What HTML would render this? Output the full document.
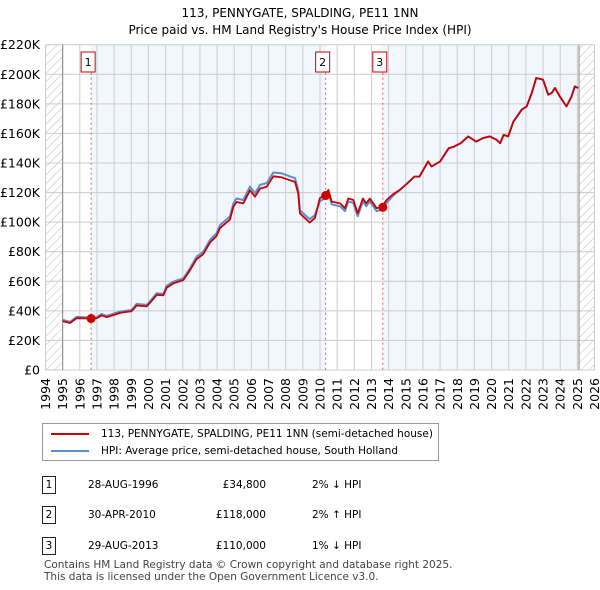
<!DOCTYPE html>
<html><head><meta charset="utf-8"><style>
body{margin:0;background:#fff;font-family:"DejaVu Sans","Liberation Sans",sans-serif;}
#wrap{position:relative;width:600px;height:590px;}
.t{position:absolute;font-size:11px;color:#000;}
svg text{font-family:"DejaVu Sans","Liberation Sans",sans-serif;}
</style></head><body><div id="wrap">
<svg id="chart" width="600" height="420" style="position:absolute;left:0;top:0"></svg>
<div style="position:absolute;left:42px;top:423px;width:397px;height:38px;border:1px solid #999;box-sizing:border-box;">
 <div style="position:absolute;left:8px;top:4px;font-size:10.5px;white-space:nowrap"><span style="display:inline-block;width:38px;height:2px;background:#cc0000;vertical-align:middle;margin-right:12px"></span>113, PENNYGATE, SPALDING, PE11 1NN (semi-detached house)</div>
 <div style="position:absolute;left:8px;top:21px;font-size:10.5px;white-space:nowrap"><span style="display:inline-block;width:38px;height:2px;background:#5b8fd4;vertical-align:middle;margin-right:12px"></span>HPI: Average price, semi-detached house, South Holland</div>
</div>
<div id="rows"></div>
<div class="t" style="left:44px;top:559px;font-size:10.5px;color:#444">Contains HM Land Registry data © Crown copyright and database right 2025.</div>
<div class="t" style="left:44px;top:571px;font-size:10.5px;color:#444">This data is licensed under the Open Government Licence v3.0.</div>
</div>
<script>
const hpiYears=[1995,1995.43,1995.82,1996.55,1996.98,1997.27,1997.56,1998.05,1998.34,1999.02,1999.31,1999.9,2000.19,2000.48,2000.87,2001.06,2001.45,2002.03,2002.42,2002.81,2003.2,2003.59,2003.97,2004.17,2004.75,2004.95,2005.14,2005.53,2005.92,2006.21,2006.5,2006.89,2007.28,2007.76,2008.25,2008.54,2008.73,2008.83,2009.4,2009.7,2009.99,2010.29,2010.49,2010.68,2011.17,2011.46,2011.65,2011.94,2012.2,2012.5,2012.7,2012.9,2013.3,2013.6,2013.88,2014.27,2014.66,2015.05,2015.5,2015.8,2016.3,2016.5,2017,2017.5,2017.8,2018.2,2018.64,2019.1,2019.5,2019.9,2020.3,2020.5,2020.7,2020.97,2021.27,2021.75,2022.05,2022.34,2022.6,2023,2023.3,2023.5,2023.7,2023.98,2024.37,2024.66,2024.85,2025.05];
const hpiValues=[33.9,32.5,36,35.5,35.7,37.9,36.6,38.4,39.5,40.6,44.7,44,47.8,51.9,51.5,56.9,59.8,62,68.8,76.7,80,88,92.5,98,103.8,112.8,116,115,124,119.6,125.2,126.4,133.6,133,130.9,129.8,121.9,108,102,104.7,114,116.4,119.8,112,110.7,107.4,114,113,104,114,110.7,114,107.4,108.5,113,118,121.8,125.8,130.8,130.8,141,137.6,141,150,151,153.4,158,154.5,156.8,158,155.6,153.4,159,158,168,176,178.3,187.3,197.5,196.4,186.2,187.3,190.7,185,178.3,185,191.8,190.7];
const paidValues=[33,31.8,35,34.8,34.9,37,35.8,37.5,38.6,39.8,43.6,43,46.8,50.8,50.5,55.6,58.6,60.8,67.5,75,78.4,86.2,90.6,96,101.7,110.5,113.6,112.7,121.5,117.2,122.7,123.9,131,130.3,128.3,127.2,119.5,106,99.7,102.7,116.1,118.4,121.8,113.9,112.7,109.4,116,115,106,116,112.7,116,109.4,110.5,115,119,121.8,125.8,130.8,130.8,141,137.6,141,150,151,153.4,158,154.5,156.8,158,155.6,153.4,159,158,168,176,178.3,187.3,197.5,196.4,186.2,187.3,190.7,185,178.3,185,191.8,190.7];
const saleYears=[1996.66,2010.33,2013.66];
const salePrices=[34.8,118,110];
const saleLabels=["1","2","3"];
const saleDates=["28-AUG-1996","30-APR-2010","29-AUG-2013"];
const salePriceText=["£34,800","£118,000","£110,000"];
const saleHpiText=["2% ↓ HPI","2% ↑ HPI","1% ↓ HPI"];
const yTicks=[0,20,40,60,80,100,120,140,160,180,200,220];
const yTickLabels=["£0","£20K","£40K","£60K","£80K","£100K","£120K","£140K","£160K","£180K","£200K","£220K"];
const xTicks=[1994,1995,1996,1997,1998,1999,2000,2001,2002,2003,2004,2005,2006,2007,2008,2009,2010,2011,2012,2013,2014,2015,2016,2017,2018,2019,2020,2021,2022,2023,2024,2025,2026];

const NS="http://www.w3.org/2000/svg";
const svg=document.getElementById('chart');
const X0=45.5,X1=594.5,Y0=370,Y1=44.7,xmin=1994,xmax=2026,ymax=220;
const xs=v=>X0+(v-xmin)/(xmax-xmin)*(X1-X0);
const ys=v=>Y0-v/ymax*(Y0-Y1);
function mk(tag,attrs,parent){const e=document.createElementNS(NS,tag);for(const k in attrs)e.setAttribute(k,attrs[k]);(parent||svg).appendChild(e);return e;}
const defs=mk('defs',{});
const pat=mk('pattern',{id:'hatch',width:6,height:6,patternUnits:'userSpaceOnUse',patternTransform:'rotate(45)'},defs);
mk('line',{x1:0,y1:0,x2:0,y2:6,stroke:'#bbb','stroke-width':1},pat);

let t=mk('text',{x:300,y:17,'text-anchor':'middle','font-size':12});t.textContent="113, PENNYGATE, SPALDING, PE11 1NN";


t=mk('text',{x:300,y:34,'text-anchor':'middle','font-size':12});t.textContent="Price paid vs. HM Land Registry's House Price Index (HPI)";



let r=mk('rect',{x:xs(saleYears[0]),y:Y1,width:xs(saleYears[1])-xs(saleYears[0]),height:Y0-Y1,fill:'#eef3fc',opacity:0.75});


r=mk('rect',{x:xs(saleYears[2]),y:Y1,width:xs(2025.1)-xs(saleYears[2]),height:Y0-Y1,fill:'#eef3fc',opacity:0.75});


r=mk('rect',{x:X0,y:Y1,width:xs(1995)-X0,height:Y0-Y1,fill:'url(#hatch)'});


r=mk('rect',{x:xs(2025.1),y:Y1,width:X1-xs(2025.1),height:Y0-Y1,fill:'url(#hatch)'});



yTicks.forEach((v,i)=>{
 const l=mk('line',{x1:X0,x2:X1,y1:ys(v),y2:ys(v),stroke:'#ccc','stroke-width':1});
 
 
 const tx=mk('text',{x:40,y:ys(v)+4.5,'text-anchor':'end','font-size':12.5});tx.textContent=yTickLabels[i];
 
 
});
xTicks.forEach(v=>{
 const l=mk('line',{x1:xs(v),x2:xs(v),y1:Y1,y2:Y0,stroke:'#ccc','stroke-width':1});
 
 
 const x=xs(v)+4.5,y=378;
 const tx=mk('text',{x:x,y:y,'text-anchor':'end','font-size':12.5,transform:'rotate(-90 '+x+' '+y+')'});tx.textContent=v;
 
 
});
let b=mk('line',{x1:xs(1995),x2:xs(1995),y1:Y1,y2:Y0,stroke:'#888'});


b=mk('line',{x1:xs(2025.1),x2:xs(2025.1),y1:Y1,y2:Y0,stroke:'#888'});



saleYears.forEach((s,i)=>{
 const l=mk('line',{x1:xs(s),x2:xs(s),y1:Y1+28,y2:Y0,stroke:'#e06060','stroke-dasharray':'2,3','stroke-width':1});
 
 
 const bx=mk('rect',{x:xs(s)-10,y:52,width:14,height:20,fill:'#fff',stroke:'#cc0000'});
 
 
 const tx=mk('text',{x:xs(s)-3,y:66,'text-anchor':'middle','font-size':11});tx.textContent=saleLabels[i];
 
 
});

function path(vals,color,w,name){
 const d=hpiYears.map((y,i)=>(i?'L':'M')+xs(y).toFixed(1)+','+ys(vals[i]).toFixed(1)).join('');
 const p=mk('path',{d:d,fill:'none',stroke:color,'stroke-width':w,'stroke-linejoin':'round'});
 
 
}
path(hpiValues,'#5b8fd4',2,'hpi-line');
path(paidValues,'#cc0000',1.8,'price-paid-line');
saleYears.forEach((s,i)=>{
 const c=mk('circle',{cx:xs(s),cy:ys(salePrices[i]),r:4.5,fill:'#cc0000'});
 
 
});

const rows=document.getElementById('rows');
const tops=[476,506,537];
saleLabels.forEach((lab,i)=>{
 const row=document.createElement('div');
 
 
 row.style.cssText='position:absolute;left:0;top:'+tops[i]+'px;width:600px;height:20px;font-size:10.5px;';
 row.innerHTML='<div style="position:absolute;left:42px;top:0;width:14px;height:18px;border:1px solid #222;box-sizing:border-box;text-align:center;line-height:17px">'+lab+'</div>'+
 '<div style="position:absolute;left:88px;top:3px">'+saleDates[i]+'</div>'+
 '<div style="position:absolute;left:180px;width:86px;text-align:right;top:3px">'+salePriceText[i]+'</div>'+
 '<div style="position:absolute;left:312px;top:3px">'+saleHpiText[i]+'</div>';
 rows.appendChild(row);
});
</script></body></html>
